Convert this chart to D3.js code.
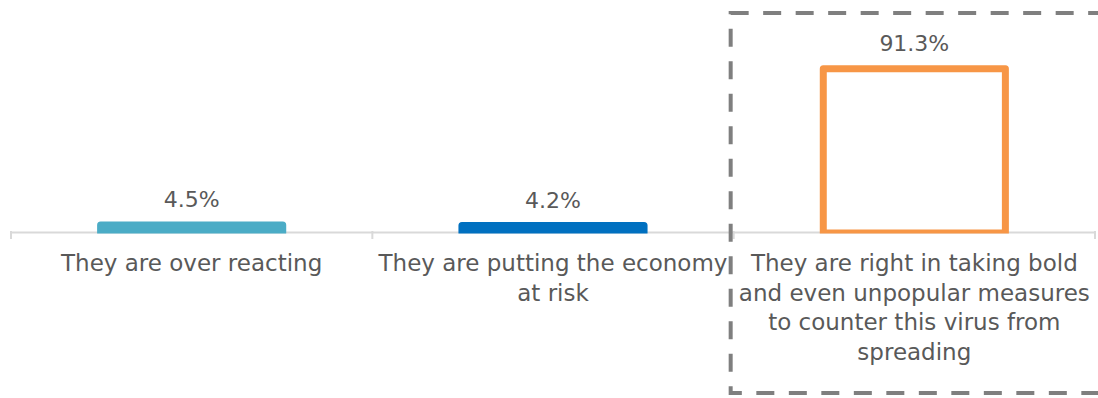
<!DOCTYPE html>
<html>
<head>
<meta charset="utf-8">
<script src="https://cdn.jsdelivr.net/npm/d3@7"></script>
<style>
  html, body { margin: 0; padding: 0; background: #ffffff; }
  svg { display: block; }
  text { font-family: "DejaVu Sans", sans-serif; fill: #595959; }
</style>
</head>
<body>
<svg id="chart" width="1098" height="398"></svg>
<script>
// Survey answers (line breaks marked with "\n")
const categories = [
  "They are over reacting",
  "They are putting the economy\nat risk",
  "They are right in taking bold\nand even unpopular measures\nto counter this virus from\nspreading"
];
const values = [4.5, 4.2, 91.3];
const barColors = ["#4BACC6", "#0070C0", "#F79646"];
const barFills = ["#4BACC6", "#0070C0", "#FFFFFF"];
const highlighted = [false, false, true];

const W = 1098, H = 398;
const plot = { left: 11, right: 1095, top: 53, bottom: 233 };
const svg = d3.select("#chart");

const x = d3.scaleBand()
  .domain(categories)
  .range([plot.left, plot.right])
  .paddingInner(0)
  .paddingOuter(0);

const y = d3.scaleLinear()
  .domain([0, 100])
  .range([plot.bottom, plot.top]);

const barW = x.bandwidth() * 0.504;
const strokeW = 7;

// Category axis along the bottom of the plot
const axis = d3.axisBottom(x).tickSize(0).tickFormat("");
const axisG = svg.append("g")
  .attr("transform", `translate(0,${plot.bottom - 1})`)
  .call(axis);
axisG.select(".domain").attr("stroke", "#d9d9d9").attr("stroke-width", 2);

// Boundary ticks between categories
const bounds = categories.map(c => x(c)).concat([x(categories[categories.length - 1]) + x.bandwidth()]);
svg.append("g").selectAll("line")
  .data(bounds)
  .join("line")
  .attr("x1", d => d).attr("x2", d => d)
  .attr("y1", plot.bottom - 2).attr("y2", plot.bottom + 6)
  .attr("stroke", "#d9d9d9").attr("stroke-width", 2);

// Bars, clipped at the baseline so the outline sits on the axis
svg.append("clipPath").attr("id", "plotClip")
  .append("rect")
  .attr("x", 0).attr("y", 0).attr("width", W).attr("height", plot.bottom + 0.5);

svg.append("g").attr("clip-path", "url(#plotClip)")
  .selectAll("rect")
  .data(values)
  .join("rect")
  .attr("x", (d, i) => x(categories[i]) + (x.bandwidth() - barW) / 2)
  .attr("y", d => y(d))
  .attr("width", barW)
  .attr("height", d => plot.bottom - y(d))
  .attr("fill", (d, i) => barFills[i])
  .attr("stroke", (d, i) => barColors[i])
  .attr("stroke-width", strokeW)
  .attr("stroke-linejoin", "round");

// Value labels above each bar
svg.append("g").selectAll("text")
  .data(values)
  .join("text")
  .attr("x", (d, i) => x(categories[i]) + x.bandwidth() / 2)
  .attr("y", d => y(d) - strokeW / 2 - 14)
  .attr("text-anchor", "middle")
  .attr("font-size", 22)
  .text(d => d.toFixed(1) + "%");

// Category labels, one tspan per line
const lineH = 29.5;
svg.append("g").selectAll("text")
  .data(categories)
  .join("text")
  .attr("x", d => x(d) + x.bandwidth() / 2)
  .attr("y", 271)
  .attr("text-anchor", "middle")
  .attr("font-size", 23)
  .each(function (d) {
    const t = d3.select(this);
    d.split("\n").forEach((line, k) => {
      t.append("tspan")
        .attr("x", x(d) + x.bandwidth() / 2)
        .attr("dy", k === 0 ? 0 : lineH)
        .text(line);
    });
  });

// Dashed frame around the highlighted answer
const hi = highlighted.indexOf(true);
svg.append("rect")
  .attr("x", x(categories[hi]) - 3)
  .attr("y", 13)
  .attr("width", W - x(categories[hi]) + 20)
  .attr("height", 380)
  .attr("fill", "none")
  .attr("stroke", "#7f7f7f")
  .attr("stroke-width", 4)
  .attr("stroke-dasharray", "18,14.5");
</script>
</body>
</html>
